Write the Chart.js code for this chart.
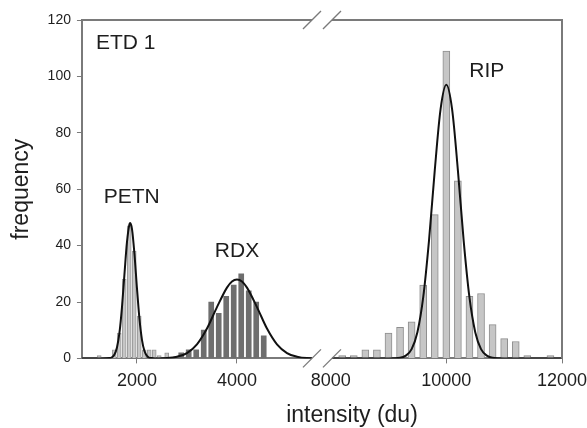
<!DOCTYPE html>
<html>
<head>
<meta charset="utf-8">
<script src="https://cdn.jsdelivr.net/npm/chart.js@4.4.1/dist/chart.umd.min.js"></script>
<style>
  html, body { margin: 0; padding: 0; background: #fff; }
  canvas { display: block; }
</style>
</head>
<body>
<canvas id="histChart" width="587" height="428"></canvas>
<script>
const FONT = "'Liberation Sans', Arial, sans-serif";
const AXIS_GRAY = "#7a7a7a";
const TEXT = "#1e1e1e";

// PETN histogram, bin centres (du) and counts
const petnBins = [1245, 1545, 1645, 1745, 1845, 1945, 2045, 2145, 2245, 2345, 2445, 2595];
const petnCounts = [1, 3, 9, 28, 47, 38, 15, 3, 3, 3, 1, 2];

// RDX histogram
const rdxBins = [2885, 3035, 3185, 3335, 3485, 3635, 3785, 3935, 4085, 4235, 4385, 4535];
const rdxCounts = [2, 3, 3, 10, 20, 16, 22, 26, 30, 24, 20, 8];

// RIP histogram (right side of the break)
const ripBins = [8200, 8400, 8600, 8800, 9000, 9200, 9400, 9600, 9800, 10000,
  10200, 10400, 10600, 10800, 11000, 11200, 11400, 11800];
const ripCounts = [1, 1, 3, 3, 9, 11, 13, 26, 51, 109, 63, 22, 23, 12, 7, 6, 1, 1];

// fitted curves
const fitLeftX = [900, 1300, 1450, 1500, 1550, 1600, 1650, 1700, 1750, 1800, 1850, 1865,
  1900, 1950, 2000, 2050, 2100, 2150, 2200, 2250, 2300, 2400, 2600, 2800, 3000, 3200,
  3400, 3600, 3800, 3900, 4000, 4100, 4200, 4400, 4600, 4800, 5000, 5200, 5400, 5700];
const fitLeftY = [0, 0, 0.1, 0.4, 1.4, 3.9, 9.1, 18.1, 29.9, 41.2, 47.6, 48,
  45.9, 37.0, 24.9, 14.0, 6.6, 2.6, 0.9, 0.2, 0.1, 0, 0.1, 0.6, 1.9, 5.0,
  10.6, 18.2, 25.1, 27.3, 28, 27.3, 25.1, 18.2, 10.6, 5.0, 1.9, 0.6, 0.1, 0];
const fitRightX = [7850, 9000, 9200, 9300, 9400, 9500, 9600, 9700, 9800, 9900, 10000,
  10100, 10200, 10300, 10400, 10500, 10600, 10700, 10800, 11000, 12000];
const fitRightY = [0, 0, 0.2, 1.0, 3.3, 9.3, 21.6, 41.7, 66.7, 88.3, 97,
  88.3, 66.7, 41.7, 21.6, 9.3, 3.3, 1.0, 0.2, 0, 0];

// axis ranges and ticks either side of the break
const leftRange = [900, 5700];
const rightRange = [7850, 12000];
const leftTicks = [2000, 4000];
const rightTicks = [8000, 10000, 12000];
const yRange = [0, 120];

// text labels inside the plot, anchored in data units
const peakLabels = ["ETD 1", "PETN", "RDX", "RIP"];
const peakAxis = ["xL", "xL", "xL", "xR"];
const peakX = [1180, 1895, 4000, 10700];
const peakY = [111.7, 57.3, 38, 102];
const peakAlign = ["left", "center", "center", "center"];

const xTitle = "intensity (du)";
const yTitle = "frequency";

function pts(xs, ys) {
  return xs.map((x, i) => ({ x: x, y: ys[i] }));
}

// frame, axis break marks, labels
const decorPlugin = {
  id: "decor",
  afterDatasetsDraw(chart) {
    const { ctx, chartArea: a, scales } = chart;
    const bx = scales.xL.right;
    ctx.save();

    ctx.strokeStyle = AXIS_GRAY;
    ctx.lineWidth = 2;
    ctx.beginPath();
    ctx.moveTo(a.left - 1, a.top);
    ctx.lineTo(a.right, a.top);
    ctx.lineTo(a.right, a.bottom);
    ctx.stroke();

    // break in the x axis
    ctx.fillStyle = "#fff";
    ctx.fillRect(bx - 10, a.top - 3, 20, 6);
    ctx.fillRect(bx - 10, a.bottom - 3, 20, 10);
    ctx.lineWidth = 1.3;
    [a.top, a.bottom].forEach((yy) => {
      [bx - 10, bx + 10].forEach((cx) => {
        ctx.beginPath();
        ctx.moveTo(cx - 9, yy + 9);
        ctx.lineTo(cx + 9, yy - 9);
        ctx.stroke();
      });
    });

    ctx.fillStyle = TEXT;
    ctx.font = "21px " + FONT;
    ctx.textBaseline = "middle";
    peakLabels.forEach((t, i) => {
      ctx.textAlign = peakAlign[i];
      ctx.fillText(t, scales[peakAxis[i]].getPixelForValue(peakX[i]), scales.y.getPixelForValue(peakY[i]));
    });

    ctx.font = "23px " + FONT;
    ctx.textAlign = "center";
    ctx.textBaseline = "alphabetic";
    ctx.fillText(xTitle, (a.left + a.right) / 2 + 30, chart.height - 6);
    ctx.restore();
  },
};

const barBase = { type: "bar", grouped: false, yAxisID: "y", order: 2 };
const lineBase = {
  type: "line", yAxisID: "y", order: 1, borderColor: "#111", borderWidth: 2,
  pointRadius: 0, fill: false, cubicInterpolationMode: "monotone",
};

function xScale(range, tickValues) {
  return {
    type: "linear",
    position: "bottom",
    stack: "x",
    stackWeight: 1,
    min: range[0],
    max: range[1],
    offset: false,
    afterBuildTicks: (scale) => {
      scale.ticks = tickValues.map((v) => ({ value: v }));
    },
    afterFit: (scale) => {
      scale.paddingLeft = 0;
      scale.paddingRight = 0;
    },
    grid: { display: true, drawOnChartArea: false, drawTicks: true, tickLength: 5, color: AXIS_GRAY, offset: false },
    border: { display: true, color: AXIS_GRAY, width: 2 },
    ticks: {
      autoSkip: false, maxRotation: 0, padding: 7,
      color: TEXT, font: { family: FONT, size: 18 },
      callback: (v) => String(v),
    },
  };
}

new Chart(document.getElementById("histChart"), {
  type: "bar",
  data: {
    datasets: [
      { ...lineBase, xAxisID: "xL", data: pts(fitLeftX, fitLeftY) },
      { ...lineBase, xAxisID: "xR", data: pts(fitRightX, fitRightY) },
      { ...barBase, xAxisID: "xL", data: pts(petnBins, petnCounts),
        backgroundColor: "#c6c6c6", borderColor: "#9a9a9a", borderWidth: 1, barThickness: 4 },
      { ...barBase, xAxisID: "xL", data: pts(rdxBins, rdxCounts),
        backgroundColor: "#6e6e6e", borderColor: "#666", borderWidth: 0, barThickness: 5 },
      { ...barBase, xAxisID: "xR", data: pts(ripBins, ripCounts),
        backgroundColor: "#c6c6c6", borderColor: "#8e8e8e", borderWidth: 1, barThickness: 7 },
    ],
  },
  options: {
    responsive: false,
    animation: false,
    devicePixelRatio: 1,
    layout: { padding: { left: 8, right: 25, top: 20, bottom: 29 } },
    plugins: { legend: { display: false }, tooltip: { enabled: false } },
    scales: {
      xL: xScale(leftRange, leftTicks),
      xR: xScale(rightRange, rightTicks),
      y: {
        type: "linear",
        position: "left",
        min: yRange[0],
        max: yRange[1],
        grid: { display: true, drawOnChartArea: false, drawTicks: true, tickLength: 5, color: AXIS_GRAY },
        border: { display: true, color: AXIS_GRAY, width: 2 },
        ticks: { stepSize: 20, padding: 6, color: TEXT, font: { family: FONT, size: 14 } },
        title: {
          display: true, text: yTitle, color: TEXT,
          font: { family: FONT, size: 23 }, padding: { top: 0, bottom: 6 },
        },
      },
    },
  },
  plugins: [decorPlugin],
});
</script>
</body>
</html>
